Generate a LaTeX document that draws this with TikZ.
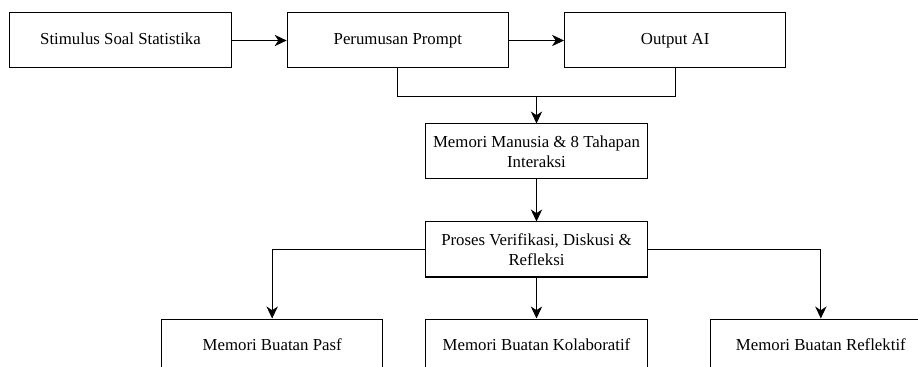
\documentclass[tikz,border=0pt]{standalone}
\usepackage{fontspec}
\setmainfont{Liberation Serif}
\usetikzlibrary{positioning, arrows.meta, calc}

\begin{document}
\begin{tikzpicture}[
    x=0.75pt, y=-0.75pt,
    font=\fontsize{12.6}{15}\selectfont,
    base/.style={draw, line width=0.75pt, minimum height=41.25pt, minimum width=166pt, align=center, inner sep=2pt},
    box/.style={base, execute at begin node=\strut, execute at end node=\strut},
    twoline/.style={base, execute at begin node=\rule{0pt}{16pt}},
    arrow/.style={-{Stealth[length=9pt, width=8.5pt, inset=2.8pt]}, line width=0.75pt}
]
\useasboundingbox (0,0) rectangle (918,367);
\clip (0,0) rectangle (918,367);
\node[box] (stimulus) at (120.5,40.5) {Stimulus Soal Statistika};
\node[box, right=41.25pt of stimulus] (prompt) {Perumusan Prompt};
\node[box, right=41.25pt of prompt] (output) {Output AI};
\coordinate (join) at ($(prompt.south)!0.5!(output.south)+(0,28)$);
\node[twoline, below=20.25pt of join] (memori) {Memori Manusia \& 8 Tahapan\\Interaksi};
\node[twoline, below=31.5pt of memori] (proses) {Proses Verifikasi, Diskusi \&\\Refleksi};
\node[box, below=30.75pt of proses] (kolab) {Memori Buatan Kolaboratif};
\node[box, left=31.5pt of kolab] (pasif) {Memori Buatan Pasf};
\node[box, right=46.5pt of kolab] (reflektif) {Memori Buatan Reflektif};
\draw[arrow] (stimulus) -- (prompt);
\draw[arrow] (prompt) -- (output);
\draw[line width=0.75pt] (prompt.south) |- (join) -| (output.south);
\draw[arrow] (join) -- (memori);
\draw[arrow] (memori) -- (proses);
\draw[arrow] (proses) -- (kolab);
\draw[arrow] (proses.west) -| (pasif);
\draw[arrow] (proses.east) -| (reflektif);
\end{tikzpicture}
\end{document}
